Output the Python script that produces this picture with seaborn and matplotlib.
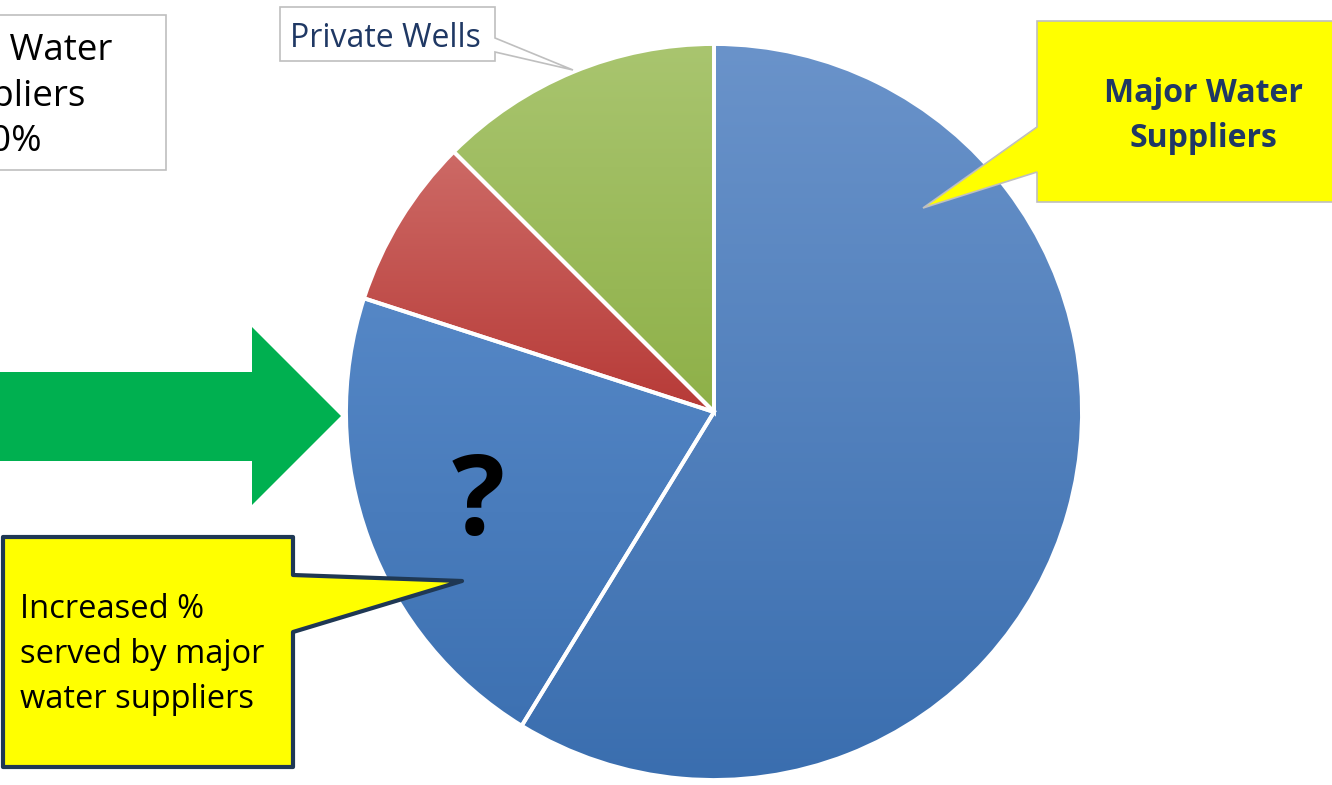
import numpy as np
import matplotlib
matplotlib.use("Agg")
import matplotlib.pyplot as plt
import seaborn as sns
from matplotlib.patches import Polygon

# ---- data ----
categories = ["Major Water Suppliers", "Increased % served by major water suppliers",
              "Other", "Private Wells"]
shares = [58.75, 21.25, 7.5, 12.5]
light_colors = ["#6A93CA", "#5587C6", "#CD6A66", "#A9C56F"]
dark_colors = ["#3A6EAF", "#3D71B2", "#B73A37", "#8EB048"]

box_lines = ["Major Water", "Suppliers", "60%"]
callout_major = ["Major Water", "Suppliers"]
callout_increase = ["Increased %", "served by major", "water suppliers"]

sns.set_theme(style="white")
plt.rcParams['font.family'] = ['Open Sans', 'DejaVu Sans']

W, H = 1332, 785
fig = plt.figure(figsize=(W / 100, H / 100), dpi=100)
ax = fig.add_axes([0, 0, 1, 1])

cx, cy, R = 714, 412, 368
wedges, _ = ax.pie(shares, colors=light_colors, startangle=-90, counterclock=True,
                   center=(cx, cy), radius=R, frame=False,
                   wedgeprops=dict(edgecolor="white", linewidth=2.8))

grad = np.linspace(0, 1, 256).reshape(-1, 1)
for w, c0, c1 in zip(wedges, light_colors, dark_colors):
    ext = w.get_path().get_extents()
    cmap = sns.blend_palette([c0, c1], as_cmap=True)
    im = ax.imshow(grad, cmap=cmap, extent=(ext.x0, ext.x1, ext.y1, ext.y0),
                   origin="upper", aspect="auto", zorder=2, interpolation="bilinear")
    im.set_clip_path(w)
    w.set_facecolor("none")
    w.set_zorder(3)

# green arrow
ax.add_patch(Polygon([(-10, 372), (252, 372), (252, 327), (341, 416), (252, 505),
                      (252, 461), (-10, 461)], closed=True, fc="#00B050", ec="none", zorder=4))

# top-left text box (cut off at the left edge, as in the source slide)
ax.add_patch(Polygon([(-10, 15), (166, 15), (166, 170), (-10, 170)], closed=True,
                     fc="white", ec="#BFBFBF", lw=1.2, zorder=4))
for line, yb in zip(box_lines, [60, 106, 151]):
    ax.text(6, yb, line, fontsize=26.5, color="black", ha="center", va="baseline", zorder=6)

# Private Wells label
ax.add_patch(Polygon([(280, 7), (495, 7), (495, 38), (573, 70), (495, 52), (495, 61),
                      (280, 61)], closed=True, fc="white", ec="#BFBFBF", lw=1.2, zorder=4))
ax.text(290, 47, categories[3], fontsize=23, color="#1F3864", ha="left", va="baseline", zorder=6)

# Major water suppliers callout
ax.add_patch(Polygon([(1037, 21), (1345, 21), (1345, 202), (1037, 202), (1037, 172),
                      (923, 208), (1037, 127)], closed=True, fc="#FFFF00", ec="#BFBFBF",
                     lw=1.2, zorder=5))
for line, yb in zip(callout_major, [102, 147]):
    ax.text(1203, yb, line, fontsize=23, fontweight="bold", color="#1F3864",
            ha="center", va="baseline", zorder=6)

# Increased % callout
ax.add_patch(Polygon([(3, 537), (293, 537), (293, 575), (462, 581), (293, 632),
                      (293, 767), (3, 767)], closed=True, fc="#FFFF00", ec="#1F3854",
                     lw=3, joinstyle="round", zorder=5))
for line, yb in zip(callout_increase, [618, 663, 708]):
    ax.text(20, yb, line, fontsize=23.5, color="black", ha="left", va="baseline", zorder=6)

# question mark
ax.text(478, 535, "?", fontsize=80, fontweight="bold", color="black",
        ha="center", va="baseline", zorder=6)

ax.set_xlim(0, W)
ax.set_ylim(H, 0)
ax.set_aspect("equal")
ax.axis("off")

fig.savefig("out.png", dpi=100)
